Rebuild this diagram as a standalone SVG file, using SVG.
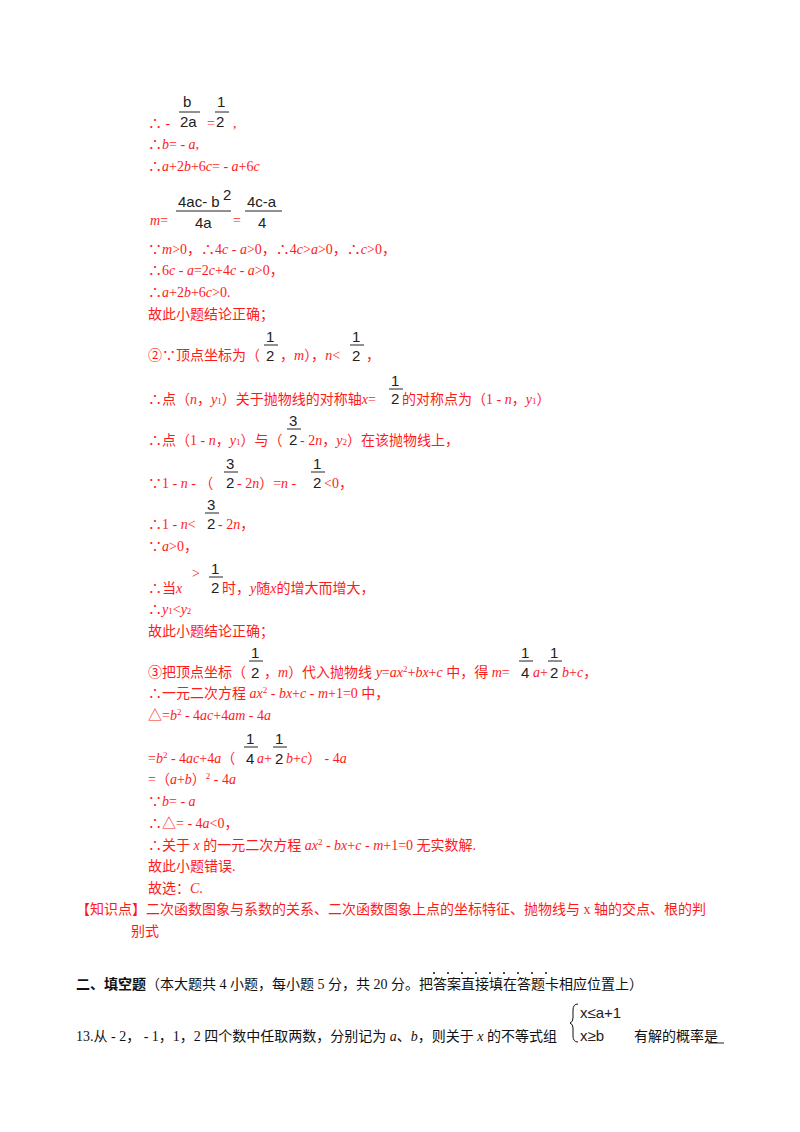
<svg xmlns="http://www.w3.org/2000/svg" width="800" height="1132" viewBox="0 0 800 1132">
<style>
text{font-family:"Liberation Serif","Noto Sans CJK SC",serif;font-size:14px}
.r{fill:#ff1a1a}
.k{fill:#111}
.f{fill:#222;font-family:"Liberation Sans",sans-serif;font-size:15px}
.i{font-style:italic}
line{stroke:#222;stroke-width:1}
.b{font-family:"Liberation Sans","Noto Sans CJK SC",sans-serif;font-weight:bold}
</style>
<rect width="800" height="1132" fill="#fff"/>
<g class="r">
<text x="148" y="128">∴ -</text>
<text x="207" y="128">=</text><text x="233" y="128">,</text>
<text x="148" y="149">∴<tspan class="i">b</tspan>= - <tspan class="i">a</tspan>,</text>
<text x="148" y="171">∴<tspan class="i">a</tspan>+2<tspan class="i">b</tspan>+6<tspan class="i">c</tspan>= - <tspan class="i">a</tspan>+6<tspan class="i">c</tspan></text>
<text x="150" y="225" class="i">m<tspan font-style="normal">=</tspan></text>
<text x="233" y="225">=</text>
<text x="148" y="254">∵<tspan class="i">m</tspan>>0，∴4<tspan class="i">c</tspan> - <tspan class="i">a</tspan>>0，∴4<tspan class="i">c</tspan>><tspan class="i">a</tspan>>0，∴<tspan class="i">c</tspan>>0，</text>
<text x="148" y="275">∴6<tspan class="i">c</tspan> - <tspan class="i">a</tspan>=2<tspan class="i">c</tspan>+4<tspan class="i">c</tspan> - <tspan class="i">a</tspan>>0，</text>
<text x="148" y="297">∴<tspan class="i">a</tspan>+2<tspan class="i">b</tspan>+6<tspan class="i">c</tspan>>0.</text>
<text x="148" y="319">故此小题结论正确；</text>
<text x="148" y="360">②∵顶点坐标为（</text><text x="280" y="360">，<tspan class="i">m</tspan>），<tspan class="i">n</tspan>&lt;</text><text x="366" y="360">，</text>
<text x="148" y="404">∴点（<tspan class="i">n</tspan>，<tspan class="i">y</tspan><tspan font-size="9">1</tspan>）关于抛物线的对称轴<tspan class="i">x</tspan>=</text>
<text x="402" y="404">的对称点为（1 - <tspan class="i">n</tspan>，<tspan class="i">y</tspan><tspan font-size="9">1</tspan>）</text>
<text x="148" y="445">∴点（1 - <tspan class="i">n</tspan>，<tspan class="i">y</tspan><tspan font-size="9">1</tspan>）与（</text>
<text x="300" y="445"> - 2<tspan class="i">n</tspan>，<tspan class="i">y</tspan><tspan font-size="9">2</tspan>）在该抛物线上，</text>
<text x="148" y="488">∵1 - <tspan class="i">n</tspan> - （</text>
<text x="237" y="488"> - 2<tspan class="i">n</tspan>）=<tspan class="i">n</tspan> -</text>
<text x="324" y="488">&lt;0，</text>
<text x="148" y="529">∴1 - <tspan class="i">n</tspan>&lt;</text>
<text x="218" y="529"> - 2<tspan class="i">n</tspan>，</text>
<text x="148" y="551">∵<tspan class="i">a</tspan>>0，</text>
<text x="148" y="593">∴当<tspan class="i">x</tspan></text>
<text x="222" y="593">时，<tspan class="i">y</tspan>随<tspan class="i">x</tspan>的增大而增大，</text>
<text x="148" y="614">∴<tspan class="i">y</tspan><tspan font-size="9">1</tspan>&lt;<tspan class="i">y</tspan><tspan font-size="9">2</tspan></text>
<text x="148" y="636">故此小题结论正确；</text>
<text x="148" y="677">③把顶点坐标（</text>
<text x="264" y="677">，<tspan class="i">m</tspan>）代入抛物线 <tspan class="i">y</tspan>=<tspan class="i">ax</tspan><tspan font-size="9" dy="-5">2</tspan><tspan dy="5">+</tspan><tspan class="i">bx</tspan>+<tspan class="i">c</tspan> 中，得 <tspan class="i">m</tspan>=</text>
<text x="533" y="677" class="i">a<tspan font-style="normal">+</tspan></text>
<text x="562" y="677" class="i">b<tspan font-style="normal">+</tspan>c<tspan font-style="normal">，</tspan></text>
<text x="148" y="698">∴一元二次方程 <tspan class="i">ax</tspan><tspan font-size="9" dy="-5">2</tspan><tspan dy="5"> - </tspan><tspan class="i">bx</tspan>+<tspan class="i">c</tspan> - <tspan class="i">m</tspan>+1=0 中，</text>
<text x="148" y="720">△=<tspan class="i">b</tspan><tspan font-size="9" dy="-5">2</tspan><tspan dy="5"> - 4</tspan><tspan class="i">ac</tspan>+4<tspan class="i">am</tspan> - 4<tspan class="i">a</tspan></text>
<text x="148" y="763">=<tspan class="i">b</tspan><tspan font-size="9" dy="-5">2</tspan><tspan dy="5"> - 4</tspan><tspan class="i">ac</tspan>+4<tspan class="i">a</tspan>（</text>
<text x="257" y="763" class="i">a<tspan font-style="normal">+</tspan></text>
<text x="286" y="763" class="i">b<tspan font-style="normal">+</tspan>c<tspan font-style="normal">） - 4</tspan>a</text>
<text x="148" y="784">=（<tspan class="i">a</tspan>+<tspan class="i">b</tspan>）<tspan font-size="9" dy="-5">2</tspan><tspan dy="5"> - 4</tspan><tspan class="i">a</tspan></text>
<text x="148" y="806">∵<tspan class="i">b</tspan>= - <tspan class="i">a</tspan></text>
<text x="148" y="828">∴△= - 4<tspan class="i">a</tspan>&lt;0，</text>
<text x="148" y="850">∴关于 <tspan class="i">x</tspan> 的一元二次方程 <tspan class="i">ax</tspan><tspan font-size="9" dy="-5">2</tspan><tspan dy="5"> - </tspan><tspan class="i">bx</tspan>+<tspan class="i">c</tspan> - <tspan class="i">m</tspan>+1=0 无实数解.</text>
<text x="148" y="871">故此小题错误.</text>
<text x="148" y="893">故选：<tspan class="i">C</tspan>.</text>
<text x="76" y="914">【知识点】二次函数图象与系数的关系、二次函数图象上点的坐标特征、抛物线与 x 轴的交点、根的判</text>
<text x="131" y="936">别式</text>
</g>
<g class="k">
<!-- fractions -->
<text class="f" x="183" y="107">b</text><line x1="179" y1="112" x2="200" y2="112"/><text class="f" x="180" y="127">2a</text>
<text class="f" x="217" y="107">1</text><line x1="215" y1="112" x2="229" y2="112"/><text class="f" x="216" y="127">2</text>
<text class="f" x="178" y="207">4ac- b</text><text class="f" x="223" y="200" font-size="11">2</text><line x1="176" y1="211" x2="231" y2="211"/><text class="f" x="195" y="228">4a</text>
<text class="f" x="247" y="207">4c-a</text><line x1="245" y1="211" x2="282" y2="211"/><text class="f" x="258" y="228">4</text>
<text class="f" x="266" y="342">1</text><line x1="264" y1="345" x2="278" y2="345"/><text class="f" x="266" y="361">2</text>
<text class="f" x="352" y="342">1</text><line x1="350" y1="345" x2="364" y2="345"/><text class="f" x="352" y="361">2</text>
<text class="f" x="391" y="386">1</text><line x1="389" y1="389" x2="403" y2="389"/><text class="f" x="391" y="404">2</text>
<text class="f" x="289" y="426">3</text><line x1="287" y1="429" x2="301" y2="429"/><text class="f" x="289" y="445">2</text>
<text class="f" x="226" y="469">3</text><line x1="224" y1="472" x2="238" y2="472"/><text class="f" x="226" y="488">2</text>
<text class="f" x="313" y="469">1</text><line x1="311" y1="472" x2="325" y2="472"/><text class="f" x="313" y="488">2</text>
<text class="f" x="207" y="510">3</text><line x1="205" y1="513" x2="219" y2="513"/><text class="f" x="207" y="529">2</text>
<text class="r" x="192" y="578" font-size="15">></text>
<text class="f" x="211" y="574">1</text><line x1="209" y1="577" x2="223" y2="577"/><text class="f" x="211" y="593">2</text>
<text class="f" x="251" y="658">1</text><line x1="249" y1="661" x2="263" y2="661"/><text class="f" x="251" y="678">2</text>
<text class="f" x="521" y="658">1</text><line x1="519" y1="661" x2="533" y2="661"/><text class="f" x="521" y="678">4</text>
<text class="f" x="550" y="658">1</text><line x1="548" y1="661" x2="562" y2="661"/><text class="f" x="550" y="678">2</text>
<text class="f" x="246" y="744">1</text><line x1="244" y1="747" x2="258" y2="747"/><text class="f" x="246" y="764">4</text>
<text class="f" x="275" y="744">1</text><line x1="273" y1="747" x2="287" y2="747"/><text class="f" x="275" y="764">2</text>
</g>
<g class="k">
<text x="76" y="989"><tspan class="b">二、填空题</tspan>（本大题共 4 小题，每小题 5 分，共 20 分。把答案直接填在答题卡相应位置上）</text>
<g fill="#111"><circle cx="434" cy="973" r="1"/><circle cx="448" cy="973" r="1"/><circle cx="462" cy="973" r="1"/><circle cx="476" cy="973" r="1"/><circle cx="490" cy="973" r="1"/><circle cx="504" cy="973" r="1"/><circle cx="518" cy="973" r="1"/><circle cx="532" cy="973" r="1"/><circle cx="546" cy="973" r="1"/></g>
<text x="76" y="1041">13.从 - 2， - 1，1，2 四个数中任取两数，分别记为 <tspan class="i">a</tspan>、<tspan class="i">b</tspan>，则关于 <tspan class="i">x</tspan> 的不等式组</text>
<path d="M578 1004 q-5 0 -5 6 v8 q0 4 -3 5 q3 1 3 5 v8 q0 6 5 6" fill="none" stroke="#111" stroke-width="1"/>
<text x="580" y="1018" class="f" font-size="14">x≤a+1</text>
<text x="580" y="1041" class="f" font-size="14">x≥b</text>
<text x="634" y="1041">有解的概率是</text>
<line x1="708" y1="1043" x2="724" y2="1043" stroke="#111"/>
</g>
</svg>
